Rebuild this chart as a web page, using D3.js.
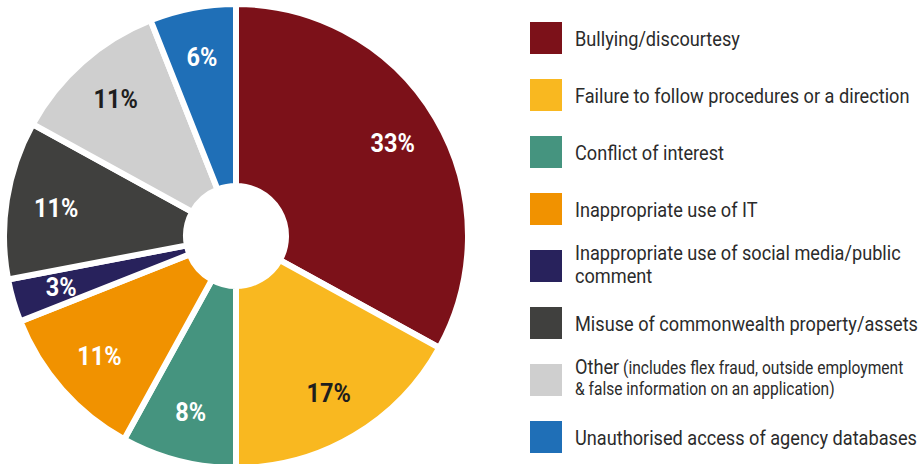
<!DOCTYPE html>
<html>
<head>
<meta charset="utf-8">
<script src="https://cdn.jsdelivr.net/npm/d3@7"></script>
<style>
  html, body { margin: 0; padding: 0; background: #fff; }
  svg { display: block; }
  .legend text { font-family: Roboto, "Liberation Sans", sans-serif; fill: #2b2b2b; }
  .pct { font-family: Roboto, "Liberation Sans", sans-serif; font-weight: bold; }
</style>
</head>
<body>
<svg id="chart" width="920" height="464"></svg>
<script>
// Misconduct categories, shares (%) and slice colours
const categories = [
  "Bullying/discourtesy",
  "Failure to follow procedures or a direction",
  "Conflict of interest",
  "Inappropriate use of IT",
  "Inappropriate use of social media/public comment",
  "Misuse of commonwealth property/assets",
  "Other (includes flex fraud, outside employment & false information on an application)",
  "Unauthorised access of agency databases"
];
const shares = [33, 17, 8, 11, 3, 11, 11, 6];
const colors = ["#7c1119", "#f9b820", "#45947f", "#f19200", "#28225c", "#40403e", "#cfcfcf", "#1f6fb7"];
const labelColors = ["#fff", "#1e1e1e", "#fff", "#fff", "#fff", "#fff", "#1e1e1e", "#fff"];

// Legend text lines: [main text, smaller note]
const legendLines = [
  [["Bullying/discourtesy", ""]],
  [["Failure to follow procedures or a direction", ""]],
  [["Conflict of interest", ""]],
  [["Inappropriate use of IT", ""]],
  [["Inappropriate use of social media/public", ""], ["comment", ""]],
  [["Misuse of commonwealth property/assets", ""]],
  [["Other", " (includes flex fraud, outside employment"], ["", "& false information on an application)"]],
  [["Unauthorised access of agency databases", ""]]
];

const svg = d3.select("#chart");
const cx = 236, cy = 236;
const condense = 0.865;

const pie = d3.pie().sort(null).value(d => d);
const arcs = pie(shares);
const arc = d3.arc().innerRadius(50).outerRadius(232);
const labelArc = d3.arc().innerRadius(182).outerRadius(182);

const g = svg.append("g").attr("transform", `translate(${cx},${cy})`);
g.selectAll("path")
  .data(arcs)
  .join("path")
  .attr("d", arc)
  .attr("fill", (d, i) => colors[i])
  .attr("stroke", "#fff")
  .attr("stroke-width", 6)
  .attr("stroke-linejoin", "miter");

g.selectAll("text.pct")
  .data(arcs)
  .join("text")
  .attr("class", "pct")
  .attr("transform", d => `translate(${labelArc.centroid(d)}) scale(0.94,1)`)
  .attr("text-anchor", "middle")
  .attr("dy", "0.36em")
  .attr("font-size", 25)
  .attr("fill", (d, i) => labelColors[i])
  .text(d => d.data + "%");

// Legend
const legY = d3.scaleLinear().domain([0, 1]).range([22, 79]);
const leg = svg.append("g").attr("class", "legend");
categories.forEach((c, i) => {
  const y0 = legY(i);
  leg.append("rect")
    .attr("x", 530).attr("y", y0)
    .attr("width", 32).attr("height", 32)
    .attr("fill", colors[i]);
  const lines = legendLines[i];
  const center = y0 + 16;
  const single = lines.length === 1;
  const first = single ? center + 8 : center - 6;
  const lh = lines[1] && !lines[1][0] ? 21 : 23;
  lines.forEach((ln, j) => {
    const t = leg.append("text")
      .attr("transform", `translate(575,${first + j * lh}) scale(${condense},1)`);
    if (ln[0]) t.append("tspan").attr("font-size", 21).text(ln[0]);
    if (ln[1]) t.append("tspan").attr("font-size", 18).text(ln[1]);
  });
});
</script>
</body>
</html>
